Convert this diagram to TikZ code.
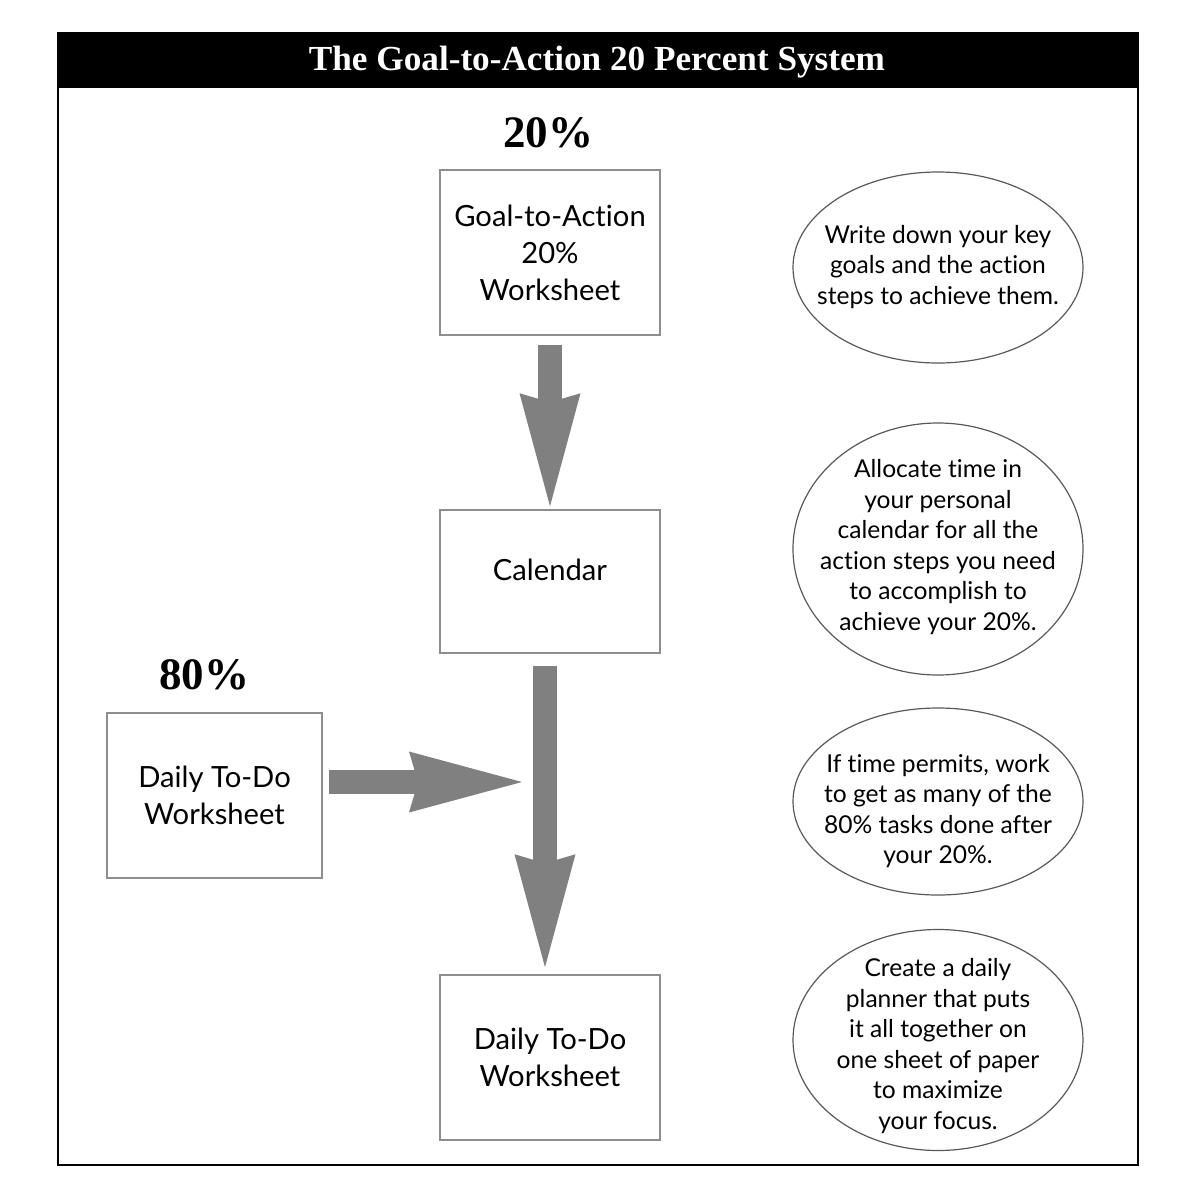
\documentclass[tikz,border=0pt]{standalone}
\usepackage{fontspec}
\setmainfont{Lato}[Ligatures={NoCommon,NoRare}]
\newfontfamily\headfont{Liberation Serif}
\usetikzlibrary{arrows.meta,positioning}
\definecolor{arrowgray}{HTML}{808080}
\definecolor{boxgray}{HTML}{8E8E8E}
\begin{document}
\begin{tikzpicture}[x=0.5pt,y=-0.5pt,
  box/.style={draw=boxgray,line width=0.75pt,minimum width=110pt,minimum height=82.5pt,
    inner sep=0pt,align=center,font=\fontsize{14.6}{18.5}\selectfont},
  bubble/.style={draw=black!65,line width=0.6pt},
  notetext/.style={align=center,inner sep=0pt,font=\fontsize{12.3}{15.3}\selectfont},
  pct/.style={font=\headfont\bfseries\fontsize{22.5}{26}\selectfont},
  flow/.style={arrowgray,line width=12pt,
    -{Stealth[length=56.5pt,width=30.5pt,inset=4.5pt,line width=0pt]}}
]
\useasboundingbox (0,0) rectangle (1196,1200);
% frame and title bar
\draw[line width=1pt] (58,33) rectangle (1138,1165);
\fill (58,33) rectangle (1138,88);
\node[text=white,font=\headfont\bfseries\fontsize{17.6}{20}\selectfont] (title) at (597,62)
  {The Goal-to-Action 20 Percent System};

\node[pct] (pct20) at (548,133) {20\%};
\node[pct] (pct80) at (204,675) {80\%};

\node[box] (goal) at (550,252.5) {Goal-to-Action\\20\%\\Worksheet};
\node[box,minimum height=71.5pt,text depth=11.5pt] (cal) at (550,581.5) {Calendar};
\node[box] (todo) at (550,1057.5) {Daily To-Do\\Worksheet};
\node[box,minimum width=107.5pt] (daily) at (214.5,795.5) {Daily To-Do\\Worksheet};

\coordinate (join) at (522,782);
\coordinate (spine) at (545,0);

\draw[flow,shorten <=4.5pt,shorten >=1.5pt] (goal.south) -- (cal.north);
\draw[flow,shorten <=6pt,shorten >=3.5pt] (cal.south -| spine) -- (todo.north -| spine);
\draw[flow,shorten <=3pt] (daily.east |- join) -- (join);

% notes
\draw[bubble] (938,267.5) ellipse [x radius=145,y radius=95.5];
\draw[bubble] (938,549) ellipse [x radius=145,y radius=126];
\draw[bubble] (938,801.5) ellipse [x radius=145,y radius=93.5];
\draw[bubble] (938,1040) ellipse [x radius=145,y radius=110.5];
\node[notetext] (note1) at (938,267) {Write down your key\\goals and the action\\steps to achieve them.};
\node[notetext] (note2) at (938,547) {Allocate time in\\your personal\\calendar for all the\\action steps you need\\to accomplish to\\achieve your 20\%.};
\node[notetext] (note3) at (938,811) {If time permits, work\\to get as many of the\\80\% tasks done after\\your 20\%.};
\node[notetext] (note4) at (938,1046) {Create a daily\\planner that puts\\it all together on\\one sheet of paper\\to maximize\\your focus.};
\end{tikzpicture}
\end{document}
